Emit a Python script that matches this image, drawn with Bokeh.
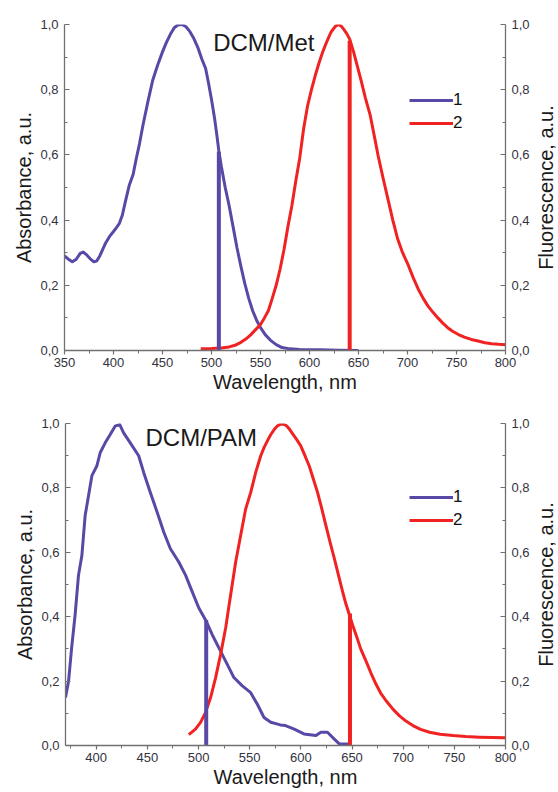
import math
from bokeh.plotting import figure
from bokeh.models import (LinearAxis, FixedTicker, CustomJSTickFormatter, Legend,
                          LegendItem, Label, Range1d, ColumnDataSource)
from bokeh.layouts import column, row
from bokeh.embed import file_html
from bokeh.resources import INLINE

# ---------------- data ----------------
# Top panel: DCM/Met
top_abs_x = [350, 354, 358, 362, 366, 369, 372, 376, 380, 383, 386, 389, 392, 396, 400, 403,
             406, 409, 412, 416, 420, 423, 426.5, 430, 435, 440, 445, 450, 454, 458, 462, 466,
             470, 474, 478, 482, 486, 490, 494, 497, 500, 503, 505.5, 507.5, 510, 514, 518,
             522, 526, 530, 534, 538, 542, 546, 550, 555, 560, 566, 572, 580, 590, 610, 630, 650]
top_abs_y = [0.29, 0.28, 0.272, 0.28, 0.298, 0.302, 0.295, 0.282, 0.272, 0.275, 0.29, 0.31,
             0.33, 0.35, 0.365, 0.377, 0.39, 0.415, 0.455, 0.506, 0.54, 0.585, 0.634, 0.69,
             0.762, 0.829, 0.875, 0.916, 0.945, 0.97, 0.99, 0.999, 1.0, 0.993, 0.978, 0.957,
             0.93, 0.895, 0.865, 0.82, 0.77, 0.715, 0.66, 0.612, 0.565, 0.5, 0.444, 0.38,
             0.315, 0.258, 0.205, 0.16, 0.122, 0.093, 0.07, 0.048, 0.032, 0.018, 0.009,
             0.005, 0.003, 0.002, 0.001, 0.0]
top_fl_x = [489, 500, 510, 518, 524, 530, 535, 540, 545, 550, 554, 558, 562, 566, 570, 574,
            578, 582, 586, 590, 594, 598, 602, 606, 610, 614, 618, 622, 626, 629, 632, 635,
            638, 641, 645, 649, 653, 657, 662, 666, 670, 675, 680, 685, 690, 695, 701, 706,
            711, 716, 721, 726, 731, 736, 741, 746, 752, 758, 765, 772, 779, 786, 793, 800]
top_fl_y = [0.005, 0.006, 0.008, 0.011, 0.016, 0.025, 0.035, 0.048, 0.064, 0.08, 0.1, 0.122,
            0.16, 0.2, 0.25, 0.31, 0.38, 0.444, 0.52, 0.59, 0.68, 0.75, 0.80, 0.845, 0.885,
            0.92, 0.95, 0.977, 0.993, 1.0, 0.996, 0.985, 0.972, 0.955, 0.916, 0.87, 0.824,
            0.775, 0.721, 0.66, 0.598, 0.53, 0.465, 0.40, 0.342, 0.3, 0.26, 0.222, 0.188,
            0.16, 0.136, 0.117, 0.10, 0.084, 0.07, 0.059, 0.049, 0.041, 0.034, 0.029, 0.024,
            0.021, 0.019, 0.018]
top_mark_x = [507.5, 641]
top_mark_y = [0.61, 0.95]

# Bottom panel: DCM/PAM
bot_abs_x = [370, 373, 376, 379.4, 382.7, 386, 389.2, 392.5, 395.8, 400.6, 404, 408.8, 413.7,
             418.6, 422.9, 426.8, 433.3, 441.5, 446.4, 452.9, 459.5, 466, 472.5, 480.7, 487.3,
             493.8, 500.3, 506.9, 513.4, 519.9, 528.1, 534.6, 542.8, 551, 557.5, 564, 570.6,
             580, 585, 593.5, 603, 614.7, 619.6, 626, 632.7, 637.6, 649]
bot_abs_y = [0.149, 0.20, 0.303, 0.406, 0.529, 0.59, 0.714, 0.776, 0.838, 0.868, 0.91, 0.94,
             0.966, 0.992, 0.997, 0.971, 0.94, 0.90, 0.848, 0.786, 0.725, 0.663, 0.611, 0.570,
             0.529, 0.478, 0.427, 0.39, 0.344, 0.303, 0.252, 0.211, 0.185, 0.164, 0.128, 0.087,
             0.072, 0.064, 0.062, 0.051, 0.036, 0.031, 0.041, 0.041, 0.02, 0.005, 0.005]
bot_fl_x = [490.5, 497, 502, 506.9, 511.8, 516.7, 521.6, 526.5, 531.4, 536.3, 541.2, 546.1,
            551, 555.9, 560.8, 564, 567.3, 570.5, 573.9, 577, 580, 583, 586, 589, 592, 596,
            600, 604, 608.2, 612, 616.3, 620.5, 624.5, 628.5, 632.7, 636.7, 640.8, 644, 647.4,
            650.5, 653.9, 658.5, 663.7, 668.5, 673.5, 678, 683.3, 690, 696.4, 703, 709.5, 717,
            725.8, 736, 748.7, 761, 774.8, 787, 800]
bot_fl_y = [0.034, 0.051, 0.072, 0.103, 0.149, 0.211, 0.283, 0.365, 0.468, 0.570, 0.653,
            0.735, 0.786, 0.848, 0.90, 0.925, 0.946, 0.965, 0.981, 0.992, 0.998, 0.998, 0.993,
            0.982, 0.968, 0.95, 0.93, 0.9, 0.868, 0.83, 0.786, 0.735, 0.683, 0.632, 0.581,
            0.53, 0.478, 0.44, 0.406, 0.375, 0.344, 0.3, 0.262, 0.225, 0.19, 0.163, 0.139,
            0.113, 0.092, 0.075, 0.062, 0.05, 0.041, 0.035, 0.031, 0.028, 0.026, 0.025, 0.024]
bot_mark_x = [507.5, 648]
bot_mark_y = [0.39, 0.41]

top_x_ticks = [350, 400, 450, 500, 550, 600, 650, 700, 750, 800]
top_x_minor = [375, 425, 475, 525, 575, 625, 675, 725, 775]
bot_x_ticks = [400, 450, 500, 550, 600, 650, 700, 750, 800]
bot_x_minor = [375, 425, 475, 525, 575, 625, 675, 725, 775]
y_ticks = [0.0, 0.2, 0.4, 0.6, 0.8, 1.0]
y_minor = [0.1, 0.3, 0.5, 0.7, 0.9]

legend_labels = ["1", "2"]
titles = ["DCM/Met", "DCM/PAM"]
x_label = "Wavelength, nm"
y_left_label = "Absorbance, a.u."
y_right_label = "Fluorescence, a.u."

BLUE = "#5a48a6"
RED = "#f02222"
AXIS = "#707070"
FONT = "Liberation Sans"
MAIN_W = 532
LABEL_W = 26


def style_axis(ax, is_y):
    ax.axis_line_color = AXIS
    ax.axis_line_width = 1.3
    ax.major_tick_line_color = AXIS
    ax.minor_tick_line_color = AXIS
    ax.major_tick_line_width = 1.2
    if is_y:
        ax.major_tick_in = 5
        ax.major_tick_out = 0
        ax.minor_tick_in = 3
        ax.minor_tick_out = 0
        ax.major_label_standoff = 6
        ax.axis_label_standoff = 2
    else:
        ax.major_tick_in = 0
        ax.major_tick_out = 4
        ax.minor_tick_in = 0
        ax.minor_tick_out = 3
        ax.major_label_standoff = 3
        ax.axis_label_standoff = 1
    ax.major_label_text_font = FONT
    ax.major_label_text_font_size = "13px"
    ax.major_label_text_color = "#333340"
    ax.axis_label_text_font = FONT
    ax.axis_label_text_font_size = "20px"
    ax.axis_label_text_font_style = "normal"
    ax.axis_label_text_color = "#1a1a1a"


def right_title(height, b_top, b_bottom):
    # narrow strip holding the right-hand axis title (reads bottom-to-top)
    q = figure(width=LABEL_W, height=height, x_range=Range1d(0, 1), y_range=Range1d(0, 1),
               output_backend="svg", toolbar_location=None,
               x_axis_location=None, y_axis_location=None,
               min_border_left=0, min_border_right=0,
               min_border_top=b_top, min_border_bottom=b_bottom)
    q.outline_line_color = None
    q.grid.visible = False
    q.background_fill_color = "white"
    q.border_fill_color = "white"
    q.add_layout(Label(x=0.5, y=0.5, text=y_right_label, angle=math.pi / 2,
                       text_align="center", text_baseline="middle",
                       text_font=FONT, text_font_size="20px", text_color="#1a1a1a"))
    return q


def make_panel(xr, xt, xm, ax_, ay_, fx_, fy_, mx_, my_, title, title_xy,
               height, b_left, b_right, b_top, b_bottom, leg_xy):
    p = figure(width=MAIN_W, height=height, x_range=Range1d(*xr), y_range=Range1d(0, 1),
               output_backend="svg", toolbar_location=None,
               min_border_left=b_left, min_border_right=b_right,
               min_border_top=b_top, min_border_bottom=b_bottom)
    p.outline_line_color = None
    p.grid.visible = False
    p.background_fill_color = "white"
    p.border_fill_color = "white"

    xa = p.xaxis[0]
    xa.ticker = FixedTicker(ticks=xt, minor_ticks=xm)
    xa.axis_label = x_label
    style_axis(xa, False)

    ya = p.yaxis[0]
    ya.ticker = FixedTicker(ticks=y_ticks, minor_ticks=y_minor)
    ya.formatter = CustomJSTickFormatter(code="return tick.toFixed(1).replace('.', ',');")
    ya.axis_label = y_left_label
    style_axis(ya, True)

    yr = LinearAxis(ticker=FixedTicker(ticks=y_ticks, minor_ticks=y_minor),
                    formatter=CustomJSTickFormatter(code="return tick.toFixed(1).replace('.', ',');"))
    style_axis(yr, True)
    p.add_layout(yr, "right")

    r_abs = p.line(ax_, ay_, line_color=BLUE, line_width=3, line_join="round")
    r_fl = p.line(fx_, fy_, line_color=RED, line_width=3, line_join="round")

    src = ColumnDataSource(dict(x=mx_, y0=[0, 0], y1=my_, c=[BLUE, RED]))
    p.segment(x0="x", y0="y0", x1="x", y1="y1", source=src, line_color="c", line_width=4)

    p.add_layout(Label(x=title_xy[0], y=title_xy[1], text=title, text_baseline="middle",
                       text_font=FONT, text_font_size="24px", text_color="#1a1a1a"))

    leg = Legend(items=[LegendItem(label=legend_labels[0], renderers=[r_abs]),
                        LegendItem(label=legend_labels[1], renderers=[r_fl])],
                 location=leg_xy, glyph_width=44, glyph_height=20, label_height=20,
                 label_standoff=0, spacing=3, padding=0, margin=0,
                 background_fill_alpha=0, border_line_alpha=0,
                 label_text_font=FONT, label_text_font_size="17px",
                 label_text_color="#111111")
    p.add_layout(leg)
    return p


p1 = make_panel((350, 800), top_x_ticks, top_x_minor, top_abs_x, top_abs_y, top_fl_x, top_fl_y,
                top_mark_x, top_mark_y, titles[0], (501.7, 0.945),
                398, 64, 26, 24, 48, (345, 217))
p2 = make_panel((370, 800), bot_x_ticks, bot_x_minor, bot_abs_x, bot_abs_y, bot_fl_x, bot_fl_y,
                bot_mark_x, bot_mark_y, titles[1], (448.2, 0.957),
                392, 65, 27, 25, 44, (344, 215))
q1 = right_title(398, 24, 48)
q2 = right_title(392, 25, 44)

layout = column(row(p1, q1, spacing=0), row(p2, q2, spacing=0), spacing=0)
open("out.html", "w").write(file_html(layout, INLINE))
